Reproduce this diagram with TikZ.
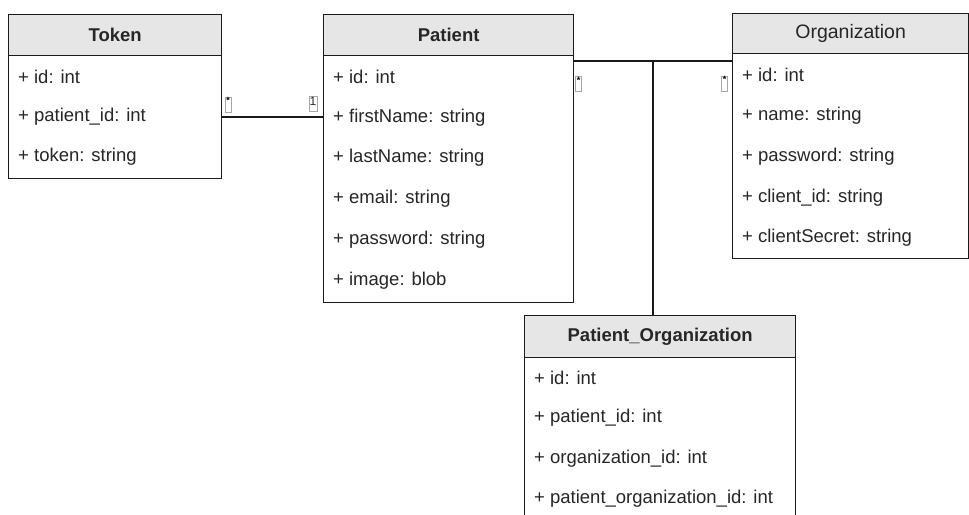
\documentclass[tikz,border=0pt]{standalone}
\usepackage{fontspec}
\setmainfont{Liberation Sans}
\definecolor{hdr}{HTML}{E6E6E6}
\definecolor{txt}{HTML}{262626}
\definecolor{edge}{HTML}{1A1A1A}
\begin{document}
\begin{tikzpicture}[x=1pt,y=-1pt,
  classbox/.style={draw=edge,line width=1.3pt,fill=white,anchor=north west,inner sep=0pt,minimum width=#1},
  hdrbox/.style={draw=edge,line width=1.3pt,fill=hdr,anchor=north west,inner sep=0pt,minimum width=#1,text=txt,font=\fontsize{18.5}{22}\selectfont\bfseries},
  row/.style={anchor=west,inner sep=0pt,text=txt,font=\fontsize{18.5}{22}\selectfont},
  conn/.style={draw=edge,line width=1.3pt},
  mult/.style={draw=gray!70,line width=0.4pt,inner sep=0pt,minimum width=#1,minimum height=15pt,fill=white,
    label={[anchor=north,inner sep=0.4pt,font=\fontsize{9}{9}\selectfont\bfseries,text=black]north:*}},
  multone/.style={draw=gray!70,line width=0.4pt,inner sep=0pt,minimum width=8pt,minimum height=15pt,fill=white,
    label={[anchor=north,inner sep=1.2pt,font=\fontsize{12}{12}\selectfont,text=txt]north:1}}
]
\useasboundingbox (0,0) rectangle (969,514);

% Token
\node[classbox=213pt,minimum height=164pt] (token) at (8,14) {};
\node[hdrbox=213pt,minimum height=41pt] (tokenh) at (8,14) {Token};
\node[row] (t1) at (18,77) {+ id: int};
\node[row] (t2) at (18,117) {+ patient\_id: int};
\node[row] (t3) at (18,157) {+ token: string};

% Patient
\node[classbox=250pt,minimum height=288pt] (patient) at (323,14) {};
\node[hdrbox=250pt,minimum height=41pt] (patienth) at (323,14) {Patient};
\node[row] (p1) at (333,77) {+ id: int};
\node[row] (p2) at (333,118) {+ firstName: string};
\node[row] (p3) at (333,158) {+ lastName: string};
\node[row] (p4) at (333,199) {+ email: string};
\node[row] (p5) at (333,240) {+ password: string};
\node[row] (p6) at (333,281) {+ image: blob};

% Organization
\node[classbox=236pt,minimum height=245pt] (org) at (732,13) {};
\node[hdrbox=236pt,minimum height=40pt,font=\fontsize{19.5}{22}\selectfont] (orgh) at (732,13) {Organization};
\node[row] (o1) at (742,75) {+ id: int};
\node[row] (o2) at (742,116) {+ name: string};
\node[row] (o3) at (742,157) {+ password: string};
\node[row] (o4) at (742,198) {+ client\_id: string};
\node[row] (o5) at (742,238) {+ clientSecret: string};

% Patient_Organization
\node[classbox=271pt,minimum height=230pt] (po) at (524,315) {};
\node[hdrbox=271pt,minimum height=42pt] (poh) at (524,315) {Patient\_Organization};
\node[row] (q1) at (534,378) {+ id: int};
\node[row] (q2) at (534,418) {+ patient\_id: int};
\node[row] (q3) at (534,459) {+ organization\_id: int};
\node[row] (q4) at (534,499) {+ patient\_organization\_id: int};

% connectors
\draw[conn] (t2 -| token.east) -- (t2 -| patient.west);
\coordinate (pl) at (573,61);
\coordinate (j) at (653,61);
\draw[conn] (pl -| patient.east) -- (pl -| org.west);
\draw[conn] (j) -- (j |- po.north);

% multiplicities
\node[mult=6pt] (m1) at (228,104.5) {};
\node[multone] (m2) at (313,104) {};
\node[mult=6pt] (m3) at (578.5,84) {};
\node[mult=6pt] (m4) at (724.5,83.5) {};
\end{tikzpicture}
\end{document}
